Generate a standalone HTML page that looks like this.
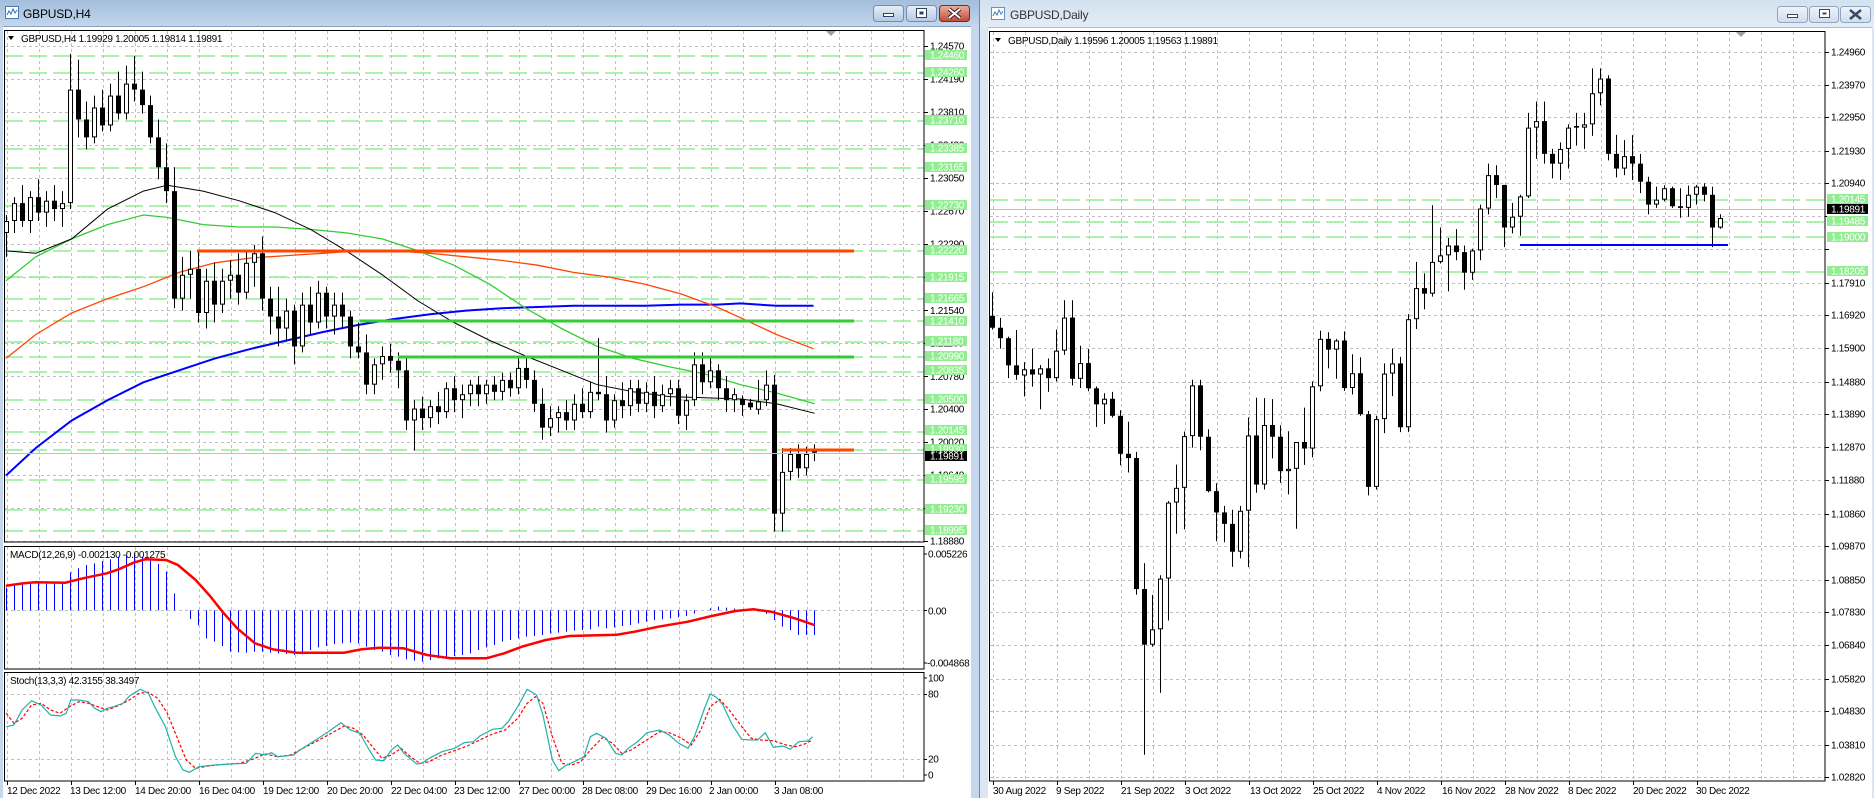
<!DOCTYPE html>
<html><head><meta charset="utf-8">
<style>
html,body{margin:0;padding:0;background:#fff;}
body{width:1874px;height:798px;overflow:hidden;}
svg{display:block;}
text{font-family:"Liberation Sans",Arial,sans-serif;font-size:10px;letter-spacing:-0.3px;}
.ax{fill:#000;}
.gl{fill:#fff;}
.tt{font-size:12px;letter-spacing:-0.2px;}
</style></head><body>
<svg id="s" width="1874" height="798" viewBox="0 0 1874 798" xmlns="http://www.w3.org/2000/svg">
<defs>
<linearGradient id="tbA" x1="0" y1="0" x2="0" y2="1"><stop offset="0" stop-color="#a3bddb"/><stop offset="1" stop-color="#c4d7ed"/></linearGradient>
<linearGradient id="tbB" x1="0" y1="0" x2="0" y2="1"><stop offset="0" stop-color="#d3e1f0"/><stop offset="1" stop-color="#e4edf7"/></linearGradient>
<linearGradient id="btA" x1="0" y1="0" x2="0" y2="1"><stop offset="0" stop-color="#e8eff8"/><stop offset="1" stop-color="#b3c8e2"/></linearGradient>
<linearGradient id="btR" x1="0" y1="0" x2="0" y2="1"><stop offset="0" stop-color="#eab0a2"/><stop offset="1" stop-color="#c2483a"/></linearGradient>
<linearGradient id="btB" x1="0" y1="0" x2="0" y2="1"><stop offset="0" stop-color="#f0f4fa"/><stop offset="1" stop-color="#cfdcec"/></linearGradient>
<clipPath id="cM"><rect x="5" y="31" width="919" height="511"/></clipPath>
<clipPath id="cD"><rect x="5" y="547" width="919" height="122"/></clipPath>
<clipPath id="cS"><rect x="5" y="673" width="919" height="108"/></clipPath>
<clipPath id="cR"><rect x="990" y="32" width="835" height="749"/></clipPath>
</defs>

<!-- window chrome -->
<rect x="0" y="0" width="1874" height="798" fill="#c5d7ed"/>
<rect x="0" y="0" width="980" height="27" fill="url(#tbA)"/>
<rect x="980" y="0" width="894" height="28" fill="url(#tbB)"/>
<rect x="980" y="28" width="894" height="770" fill="#dbe6f3"/>
<line x1="979.5" y1="0" x2="979.5" y2="798" stroke="#5b8fc4"/>
<rect x="3" y="27" width="968" height="771" fill="#fff"/>
<line x1="3" y1="26.5" x2="971" y2="26.5" stroke="#8aa2c0"/>
<rect x="988" y="28" width="884" height="770" fill="#fff"/>
<line x1="988" y1="27.5" x2="1872" y2="27.5" stroke="#a9bdd6"/>

<!-- icons -->
<rect x="5.5" y="6.5" width="13" height="12" fill="#fff" stroke="#4a78b0"/>
<polyline points="7,15 9,11 11,14 13,9 15,13 17,10" fill="none" stroke="#2a6fc0"/>
<rect x="991.5" y="7.5" width="13" height="12" fill="#fff" stroke="#6a90bf"/>
<polyline points="993,16 995,12 997,15 999,10 1001,14 1003,11" fill="none" stroke="#3a7fc8"/>

<!-- titles -->
<text x="23" y="18" class="tt" fill="#000">GBPUSD,H4</text>
<text x="1010" y="19" class="tt" fill="#333">GBPUSD,Daily</text>

<!-- left buttons -->
<rect x="873.5" y="5.5" width="30" height="16" rx="3" fill="url(#btA)" stroke="#6f8db3"/>
<rect x="883.5" y="13.5" width="10" height="3" fill="#fff" stroke="#2d4260"/>
<rect x="906.5" y="5.5" width="30" height="16" rx="3" fill="url(#btA)" stroke="#6f8db3"/>
<rect x="916.5" y="8.5" width="10" height="9" fill="#fff" stroke="#2d4260"/>
<rect x="919.5" y="11.5" width="4" height="3" fill="#2d4260"/>
<rect x="939.5" y="5.5" width="30" height="16" rx="3" fill="url(#btR)" stroke="#7a2a1e"/>
<path d="M949,9 L960,18 M960,9 L949,18" stroke="#3a1a14" stroke-width="4"/>
<path d="M949,9 L960,18 M960,9 L949,18" stroke="#fff" stroke-width="2"/>

<!-- right buttons -->
<rect x="1777.5" y="6.5" width="30" height="16" rx="3" fill="url(#btB)" stroke="#8ea6c3"/>
<rect x="1787.5" y="14.5" width="10" height="3" fill="#fff" stroke="#3c4a5c"/>
<rect x="1809.5" y="6.5" width="29" height="16" rx="3" fill="url(#btB)" stroke="#8ea6c3"/>
<rect x="1819.5" y="9.5" width="10" height="8" fill="#fff" stroke="#3c4a5c"/>
<rect x="1822.5" y="12.5" width="4" height="2" fill="#3c4a5c"/>
<rect x="1840.5" y="6.5" width="30" height="16" rx="3" fill="url(#btB)" stroke="#8ea6c3"/>
<path d="M1850,10 L1861,19 M1861,10 L1850,19" stroke="#3c4a5c" stroke-width="2.5"/>

<!-- grids (generated) -->
<g id="grid"></g>

<!-- left main chart content -->
<g clip-path="url(#cM)">
  <g id="lgreen"></g>
  <g id="lma"></g>
  <g id="lcandles"></g>
  <line x1="197" y1="251" x2="854" y2="251" stroke="#ff4500" stroke-width="3"/>
  <line x1="360" y1="321" x2="854" y2="321" stroke="#32cd32" stroke-width="3"/>
  <line x1="398" y1="357" x2="854" y2="357" stroke="#32cd32" stroke-width="3"/>
  <line x1="782" y1="450" x2="854" y2="450" stroke="#ff4500" stroke-width="3"/>
  <line x1="5" y1="453.5" x2="924" y2="453.5" stroke="#c0c0c0"/>
  <polygon points="826,31 836,31 831,36" fill="#a0a0a0"/>
</g>
<g clip-path="url(#cD)"><g id="macd"></g></g>
<g clip-path="url(#cS)"><g id="stoch"></g></g>

<!-- right chart content -->
<g clip-path="url(#cR)">
  <g id="rgreen"></g>
  <line x1="990" y1="209.5" x2="1825" y2="209.5" stroke="#c0c0c0"/>
  <g id="rcandles"></g>
  <line x1="1520" y1="245" x2="1728" y2="245" stroke="#0000ff" stroke-width="2"/>
  <polygon points="1736,32 1746,32 1741,37" fill="#a0a0a0"/>
</g>

<!-- frames -->
<rect x="4.5" y="30.5" width="919.5" height="511.5" fill="none" stroke="#000"/>
<rect x="4.5" y="546.5" width="919.5" height="122.5" fill="none" stroke="#000"/>
<rect x="4.5" y="672.5" width="919.5" height="108.5" fill="none" stroke="#000"/>
<rect x="989.5" y="31.5" width="835.5" height="749.5" fill="none" stroke="#000"/>
<g id="ticks"></g>

<!-- headers -->
<polygon points="8,36 14,36 11,40" fill="#000"/>
<text x="21" y="42" class="ax">GBPUSD,H4  1.19929 1.20005 1.19814 1.19891</text>
<polygon points="995,38 1001,38 998,42" fill="#000"/>
<text x="1008" y="44" class="ax">GBPUSD,Daily  1.19596 1.20005 1.19563 1.19891</text>
<text x="10" y="558" class="ax">MACD(12,26,9) -0.002130 -0.001275</text>
<text x="10" y="684" class="ax">Stoch(13,3,3) 42.3155 38.3497</text>

<!-- left axis tick labels -->
<g class="ax">
<text x="930" y="49.6">1.24570</text>
<text x="930" y="82.6">1.24190</text>
<text x="930" y="115.6">1.23810</text>
<text x="930" y="148.6">1.23430</text>
<text x="930" y="181.6">1.23050</text>
<text x="930" y="214.6">1.22670</text>
<text x="930" y="247.6">1.22290</text>
<text x="930" y="280.6">1.21910</text>
<text x="930" y="314.1">1.21540</text>
<text x="930" y="346.6">1.21160</text>
<text x="930" y="380.1">1.20780</text>
<text x="930" y="412.6">1.20400</text>
<text x="930" y="445.6">1.20020</text>
<text x="930" y="478.6">1.19640</text>
<text x="930" y="511.6">1.19260</text>
<text x="930" y="544.6">1.18880</text>
<text x="928" y="557.6">0.005226</text>
<text x="928" y="614.6">0.00</text>
<text x="927" y="666.6">-0.004868</text>
<text x="928" y="681.6">100</text>
<text x="928" y="697.6">80</text>
<text x="928" y="762.6">20</text>
<text x="928" y="778.6">0</text>
</g>
<!-- left green labels -->
<g fill="#90ee90">
<rect x="925" y="50" width="42" height="10"/>
<rect x="925" y="67" width="42" height="10"/>
<rect x="925" y="115" width="42" height="10"/>
<rect x="925" y="143" width="42" height="10"/>
<rect x="925" y="162" width="42" height="10"/>
<rect x="925" y="200" width="42" height="10"/>
<rect x="925" y="245" width="42" height="10"/>
<rect x="925" y="272" width="42" height="10"/>
<rect x="925" y="293" width="42" height="10"/>
<rect x="925" y="316" width="42" height="10"/>
<rect x="925" y="336" width="42" height="10"/>
<rect x="925" y="351" width="42" height="10"/>
<rect x="925" y="365" width="42" height="10"/>
<rect x="925" y="394" width="42" height="10"/>
<rect x="925" y="425" width="42" height="10"/>
<rect x="925" y="444" width="42" height="10"/>
<rect x="925" y="474" width="42" height="10"/>
<rect x="925" y="504" width="42" height="10"/>
<rect x="925" y="525" width="42" height="10"/>
</g>
<rect x="925" y="451" width="42" height="10" fill="#000"/>
<g class="gl">
<text x="930" y="58.6">1.24460</text>
<text x="930" y="75.6">1.24260</text>
<text x="930" y="123.6">1.23710</text>
<text x="930" y="151.6">1.23385</text>
<text x="930" y="170.6">1.23165</text>
<text x="930" y="208.6">1.22730</text>
<text x="930" y="253.6">1.22220</text>
<text x="930" y="280.6">1.21915</text>
<text x="930" y="301.6">1.21665</text>
<text x="930" y="324.6">1.21410</text>
<text x="930" y="344.6">1.21180</text>
<text x="930" y="359.6">1.20990</text>
<text x="930" y="373.6">1.20835</text>
<text x="930" y="402.6">1.20500</text>
<text x="930" y="433.6">1.20145</text>
<text x="930" y="452.6">1.19930</text>
<text x="930" y="482.6">1.19595</text>
<text x="930" y="512.6">1.19230</text>
<text x="930" y="533.6">1.18995</text>
<text x="930" y="459.6">1.19891</text>
</g>

<!-- right axis labels -->
<g class="ax">
<text x="1831" y="55.6">1.24960</text>
<text x="1831" y="88.6">1.23970</text>
<text x="1831" y="120.6">1.22950</text>
<text x="1831" y="154.6">1.21930</text>
<text x="1831" y="186.6">1.20940</text>
<text x="1831" y="286.6">1.17910</text>
<text x="1831" y="318.6">1.16920</text>
<text x="1831" y="351.6">1.15900</text>
<text x="1831" y="385.6">1.14880</text>
<text x="1831" y="417.6">1.13890</text>
<text x="1831" y="450.6">1.12870</text>
<text x="1831" y="483.6">1.11880</text>
<text x="1831" y="517.6">1.10860</text>
<text x="1831" y="549.6">1.09870</text>
<text x="1831" y="583.6">1.08850</text>
<text x="1831" y="615.6">1.07830</text>
<text x="1831" y="648.6">1.06840</text>
<text x="1831" y="682.6">1.05820</text>
<text x="1831" y="714.6">1.04830</text>
<text x="1831" y="748.6">1.03810</text>
<text x="1831" y="780.6">1.02820</text>
</g>
<g fill="#90ee90">
<rect x="1827" y="194" width="41" height="10"/>
<rect x="1827" y="216" width="41" height="10"/>
<rect x="1827" y="232" width="41" height="10"/>
<rect x="1827" y="266" width="41" height="10"/>
</g>
<rect x="1827" y="204" width="41" height="10" fill="#000"/>
<g class="gl">
<text x="1831" y="202.6">1.20145</text>
<text x="1831" y="212.6">1.19891</text>
<text x="1831" y="224.6">1.19485</text>
<text x="1831" y="240.6">1.19000</text>
<text x="1831" y="274.6">1.18205</text>
</g>

<!-- date labels -->
<g class="ax">
<text x="7" y="794">12 Dec 2022</text>
<text x="70" y="794">13 Dec 12:00</text>
<text x="135" y="794">14 Dec 20:00</text>
<text x="199" y="794">16 Dec 04:00</text>
<text x="263" y="794">19 Dec 12:00</text>
<text x="327" y="794">20 Dec 20:00</text>
<text x="391" y="794">22 Dec 04:00</text>
<text x="454" y="794">23 Dec 12:00</text>
<text x="519" y="794">27 Dec 00:00</text>
<text x="582" y="794">28 Dec 08:00</text>
<text x="646" y="794">29 Dec 16:00</text>
<text x="709" y="794">2 Jan 00:00</text>
<text x="774" y="794">3 Jan 08:00</text>
<text x="993" y="794">30 Aug 2022</text>
<text x="1056" y="794">9 Sep 2022</text>
<text x="1121" y="794">21 Sep 2022</text>
<text x="1185" y="794">3 Oct 2022</text>
<text x="1250" y="794">13 Oct 2022</text>
<text x="1313" y="794">25 Oct 2022</text>
<text x="1377" y="794">4 Nov 2022</text>
<text x="1442" y="794">16 Nov 2022</text>
<text x="1505" y="794">28 Nov 2022</text>
<text x="1568" y="794">8 Dec 2022</text>
<text x="1633" y="794">20 Dec 2022</text>
<text x="1696" y="794">30 Dec 2022</text>
</g>
</svg>

<script>
(function(){
var NS="http://www.w3.org/2000/svg";
function el(p,t,a){var e=document.createElementNS(NS,t);for(var k in a)e.setAttribute(k,a[k]);p.appendChild(e);return e;}
function $(id){return document.getElementById(id);}
var S=1.1946;

/* grids */
var g=$("grid");var D="3 3",GC="#c0c0c0";
var lys=[46,79,112,145,178,211,244,277,310,343,376,409,442,475,508,541];
for(var k=0;k<=28;k++){var x=7.5+32*k;
 el(g,"line",{x1:x,y1:31,x2:x,y2:542,stroke:GC,"stroke-dasharray":D});
 el(g,"line",{x1:x,y1:547,x2:x,y2:669,stroke:GC,"stroke-dasharray":D});
 el(g,"line",{x1:x,y1:673,x2:x,y2:781,stroke:GC,"stroke-dasharray":D});}
lys.forEach(function(y){el(g,"line",{x1:5,y1:y+0.5,x2:924,y2:y+0.5,stroke:GC,"stroke-dasharray":D});});
el(g,"line",{x1:5,y1:610.5,x2:924,y2:610.5,stroke:GC,"stroke-dasharray":D});
el(g,"line",{x1:5,y1:694.5,x2:924,y2:694.5,stroke:GC,"stroke-dasharray":D});
el(g,"line",{x1:5,y1:759.5,x2:924,y2:759.5,stroke:GC,"stroke-dasharray":D});
var rys=[52,85,117,151,183,216,249,283,315,348,382,414,447,480,514,546,580,612,645,679,711,745,777];
for(var k=0;k<=25;k++){var x=993.5+32*k;el(g,"line",{x1:x,y1:32,x2:x,y2:781,stroke:GC,"stroke-dasharray":D});}
rys.forEach(function(y){el(g,"line",{x1:990,y1:y+0.5,x2:1825,y2:y+0.5,stroke:GC,"stroke-dasharray":D});});

/* ticks */
var t=$("ticks");
lys.forEach(function(y){el(t,"line",{x1:924,y1:y+0.5,x2:928,y2:y+0.5,stroke:"#000"});});
[554,610.5,663,678,694.5,759.5,775].forEach(function(y){el(t,"line",{x1:924,y1:y,x2:927,y2:y,stroke:"#000"});});
rys.forEach(function(y){el(t,"line",{x1:1825,y1:y+0.5,x2:1829,y2:y+0.5,stroke:"#000"});});
[7,71,135,199,263,327,391,455,519,583,647,711,775].forEach(function(x){el(t,"line",{x1:x+0.5,y1:781,x2:x+0.5,y2:785,stroke:"#000"});});
for(var k=0;k<12;k++){var x=993.5+64*k;el(t,"line",{x1:x,y1:781,x2:x,y2:785,stroke:"#000"});}

/* green dashed levels */
var lg=$("lgreen");
[56,73,121,149,168,206,251,277,299,321,342,357,372,400,432,450,480,510,531].forEach(function(y){
 el(lg,"line",{x1:5,y1:y,x2:924,y2:y,stroke:"#90ee90","stroke-width":1.5,"stroke-dasharray":"18 6"});});
var rg=$("rgreen");
[200,222,237,272].forEach(function(y){
 el(rg,"line",{x1:990,y1:y,x2:1825,y2:y,stroke:"#90ee90","stroke-width":1.5,"stroke-dasharray":"18 6"});});

/* candles */
function candles(gr,data,xf,yf){
 for(var i=0;i<data.length;i++){var d=data[i];var x=Math.round(xf(i));
  var o=yf(d[0]),h=yf(d[1]),l=yf(d[2]),c=yf(d[3]);
  el(gr,"line",{x1:x+0.5,y1:Math.min(h,l),x2:x+0.5,y2:Math.max(h,l),stroke:"#000"});
  var top=Math.min(o,c),bot=Math.max(o,c);if(bot-top<1)bot=top+1;
  if(c<o){el(gr,"rect",{x:x-1.5,y:top+0.5,width:4,height:Math.max(bot-top-1,0.5),fill:"#fff",stroke:"#000"});}
  else{el(gr,"rect",{x:x-2,y:top,width:5,height:bot-top,fill:"#000"});}
 }}

var H4=[[195,180,215,185],[185,165,195,170],[170,155,190,185],[185,160,195,165],[165,150,185,178],[178,160,190,168],[168,155,185,175],[175,160,190,170],
[170,45,175,75],[75,50,115,100],[100,85,125,115],[115,80,120,90],[90,75,110,105],[105,70,110,80],[80,60,100,95],[95,55,100,70],[70,47,85,75],[75,60,95,88],[88,80,120,115],[115,100,150,140],
[140,120,170,160],[160,140,258,250],[250,215,260,230],[230,210,250,225],[225,210,270,262],[262,225,275,235],[235,220,270,255],[255,225,262,235],[235,218,250,230],[230,212,255,245],
[245,210,250,220],[220,205,240,212],[212,198,260,250],[250,240,280,265],[265,240,290,275],[275,250,285,260],[260,255,305,290],[290,245,295,255],[255,240,280,270],[270,235,275,245],
[245,240,275,265],[265,245,280,255],[255,245,275,265],[265,260,300,290],[290,270,300,295],[295,280,330,322],[322,300,330,305],[305,290,318,298],[298,288,312,302],[302,295,325,310],
[310,300,360,352],[352,335,377,342],[342,332,360,350],[350,335,358,340],[340,328,355,345],[345,320,350,325],[325,315,345,335],[335,322,350,330],[330,318,340,322],[322,315,340,330],
[330,318,338,322],[322,315,335,328],[328,312,335,318],[318,312,332,325],[325,300,330,308],[308,298,325,318],[318,310,345,338],[338,325,368,358],[358,340,365,350],[350,340,362,345],
[345,335,360,352],[352,330,360,338],[338,325,350,345],[345,320,350,328],[328,283,335,330],[330,315,362,352],[352,330,358,335],[335,320,350,340],[340,318,348,325],[325,318,345,338],
[338,320,345,328],[328,315,350,340],[340,322,345,330],[330,318,340,325],[325,318,355,348],[348,330,360,335],[335,295,340,305],[305,295,330,320],[320,300,325,310],[310,305,335,325],
[325,315,345,335],[335,325,345,330],[334,331,348,339],[337,334,343,341],[343,318,347,336],[335,310,340,322],[322,314,445,430],[430,375,445,395],[395,375,402,380],[380,372,400,392],
[392,374,398,380],[377,372,386,379]];
candles($("lcandles"),H4,function(i){return 6+8*i;},function(v){return v*S;});

var DY=[[1.1690,1.1762,1.1648,1.1654],[1.1654,1.1684,1.1590,1.1622],[1.1622,1.1627,1.1500,1.1539],[1.1539,1.1647,1.1495,1.1510],[1.1508,1.1549,1.1444,1.1527],[1.1527,1.1590,1.1474,1.1511],[1.1511,1.1540,1.1405,1.1530],[1.1530,1.1560,1.1458,1.1500],[1.1500,1.1648,1.1490,1.1584],[1.1584,1.1738,1.1571,1.1685],
[1.1685,1.1738,1.1478,1.1498],[1.1498,1.1599,1.1470,1.1546],[1.1546,1.1589,1.1460,1.1469],[1.1469,1.1475,1.1351,1.1420],[1.1420,1.1454,1.1360,1.1437],[1.1437,1.1458,1.1380,1.1385],[1.1385,1.1402,1.1234,1.1269],[1.1269,1.1367,1.1212,1.1256],[1.1256,1.1275,1.0839,1.0856],[1.0856,1.0935,1.0350,1.0686],
[1.0686,1.0838,1.0680,1.0733],[1.0733,1.0898,1.0539,1.0888],[1.0888,1.1125,1.0760,1.1120],[1.1120,1.1236,1.1025,1.1165],[1.1165,1.1337,1.1038,1.1323],[1.1323,1.1495,1.1288,1.1478],[1.1478,1.1495,1.1280,1.1321],[1.1321,1.1344,1.1151,1.1155],[1.1155,1.1179,1.1002,1.1090],[1.1090,1.1110,1.0999,1.1055],
[1.1055,1.1098,1.0924,1.0970],[1.0970,1.1110,1.0950,1.1095],[1.1095,1.1380,1.0923,1.1325],[1.1325,1.1440,1.1150,1.1175],[1.1175,1.1439,1.1160,1.1357],[1.1357,1.1436,1.1255,1.1321],[1.1321,1.1356,1.1180,1.1216],[1.1216,1.1338,1.1145,1.1223],[1.1223,1.1300,1.1040,1.1305],[1.1305,1.1410,1.1235,1.1285],
[1.1285,1.1490,1.1258,1.1475],[1.1475,1.1645,1.1460,1.1620],[1.1620,1.1640,1.1530,1.1587],[1.1587,1.1620,1.1498,1.1615],[1.1615,1.1643,1.1461,1.1470],[1.1470,1.1573,1.1450,1.1515],[1.1515,1.1564,1.1385,1.1390],[1.1390,1.1400,1.1142,1.1168],[1.1168,1.1385,1.1160,1.1375],[1.1375,1.1545,1.1332,1.1514],
[1.1514,1.1590,1.1445,1.1545],[1.1545,1.1565,1.1335,1.1350],[1.1350,1.1695,1.1335,1.1680],[1.1680,1.1855,1.1650,1.1775],[1.1775,1.1820,1.1710,1.1758],[1.1758,1.2028,1.1749,1.1855],[1.1855,1.1960,1.1850,1.1875],[1.1875,1.1928,1.1765,1.1905],[1.1905,1.1955,1.1860,1.1885],[1.1885,1.1905,1.1770,1.1822],
[1.1822,1.1895,1.1800,1.1890],[1.1890,1.2030,1.1860,1.2018],[1.2018,1.2155,1.2000,1.2120],[1.2120,1.2150,1.2050,1.2090],[1.2090,1.2090,1.1900,1.1960],[1.1960,1.2035,1.1942,1.1993],[1.1993,1.2060,1.1935,1.2055],[1.2055,1.2310,1.2050,1.2265],[1.2265,1.2345,1.2170,1.2285],[1.2285,1.2345,1.2155,1.2185],
[1.2185,1.2200,1.2110,1.2155],[1.2155,1.2220,1.2105,1.2200],[1.2200,1.2275,1.2140,1.2265],[1.2265,1.2310,1.2210,1.2270],[1.2265,1.2310,1.2200,1.2275],[1.2275,1.2446,1.2240,1.2370],[1.2370,1.2446,1.2333,1.2415],[1.2415,1.2425,1.2165,1.2185],[1.2185,1.2243,1.2113,1.2140],[1.2140,1.2227,1.2120,1.2178],
[1.2178,1.2242,1.2105,1.2155],[1.2155,1.2185,1.2065,1.2100],[1.2100,1.2115,1.2000,1.2030],[1.2030,1.2085,1.2020,1.2045],[1.2045,1.2089,1.2040,1.2080],[1.2080,1.2085,1.2020,1.2025],[1.2025,1.2080,1.1990,1.2020],[1.2020,1.2088,1.1993,1.2060],[1.2060,1.2090,1.2030,1.2085],[1.2085,1.2095,1.2040,1.2060],
[1.2060,1.2085,1.1900,1.1960],[1.19596,1.20005,1.19563,1.19891]];
candles($("rcandles"),DY,function(i){return 992+8*i;},function(p){return 52+(1.24960-p)*3274.6;});

/* moving averages (displayed coords * S) */
function pl(gr,pts,col,w){var s=pts.map(function(p){return (p[0]*S).toFixed(1)+","+(p[1]*S).toFixed(1);}).join(" ");
 el(gr,"polyline",{points:s,fill:"none",stroke:col,"stroke-width":w});}
var ma=$("lma");
pl(ma,[[5,398],[30,375],[60,352],[90,335],[120,320],[150,310],[180,300],[210,292],[240,285],[270,278],[300,272],[330,267],[360,263],[390,260],[420,258],[450,257],[480,256],[510,256],[540,256],[570,255],[600,255],[620,254],[650,256],[681,256]],"#0000ff",2);
pl(ma,[[5,300],[30,280],[60,262],[90,250],[120,240],[150,228],[180,220],[210,216],[240,214],[270,212],[300,210],[330,210],[360,212],[390,215],[420,218],[450,222],[480,228],[510,232],[540,238],[570,246],[600,257],[620,266],[650,280],[681,292]],"#ff4500",1.3);
pl(ma,[[5,235],[30,215],[60,200],[90,188],[120,180],[140,182],[170,188],[200,190],[230,190],[260,192],[290,195],[320,200],[350,210],[380,222],[410,238],[440,258],[470,275],[500,290],[530,300],[560,307],[590,313],[620,322],[650,329],[682,338]],"#32cd32",1.3);
pl(ma,[[5,210],[30,212],[60,200],[90,175],[120,160],[140,155],[170,160],[200,168],[230,178],[260,192],[290,210],[320,230],[350,252],[380,270],[410,285],[440,298],[470,310],[500,322],[530,328],[560,332],[590,333],[620,334],[650,338],[682,346]],"#000",1);

/* MACD */
var m=$("macd");
var H=[143,135,130,128,128,130,130,128,97,85,75,70,63,58,50,47,45,50,60,72,95,160,211,237,256,295,305,318,335,337,338,335,335,338,340,342,345,343,330,322,318,312,310,308,310,320,330,335,345,350,358,362,365,360,355,352,348,345,340,330,322,315,305,300,295,290,288,285,280,278,275,272,270,268,260,265,262,258,255,250,245,240,238,235,232,228,220,212,205,200,203,206,208,211,215,222,240,260,270,285,285,285];
for(var i=0;i<H.length;i++){var x=6.5+8*i,y=540+H[i]/3;if(Math.abs(y-610.3)<0.8)continue;
 el(m,"line",{x1:x,y1:610.3,x2:x,y2:y,stroke:"#0000ff"});}
var sg=[[10,137],[40,130],[60,127],[110,128],[140,115],[180,100],[200,88],[225,68],[245,58],[280,60],[300,75],[330,120],[355,170],[375,215],[400,265],[430,310],[460,328],[500,338],[580,338],[610,328],[640,323],[680,325],[720,345],[760,355],[820,355],[850,340],[880,320],[920,300],[960,288],[1040,284],[1070,275],[1110,260],[1160,245],[1200,228],[1240,213],[1270,208],[1300,215],[1340,235],[1373,255]];
el(m,"polyline",{points:sg.map(function(p){return (p[0]/1.686).toFixed(1)+","+(540+p[1]/3).toFixed(1);}).join(" "),fill:"none",stroke:"#ff0000","stroke-width":2.5});

/* Stochastic */
var st=$("stoch");
function sp(a){return a.map(function(p){return (p[0]/1.584).toFixed(1)+","+(660+p[1]/3).toFixed(1);}).join(" ");}
var sig=[[10,160],[22,190],[35,175],[50,135],[65,130],[80,150],[95,160],[110,140],[125,125],[140,130],[155,140],[170,150],[190,135],[205,120],[220,100],[235,97],[250,115],[265,160],[280,230],[295,300],[310,325],[330,318],[355,313],[380,310],[400,298],[420,282],[440,290],[460,285],[480,265],[500,245],[520,225],[545,198],[560,205],[575,225],[590,260],[605,295],[620,285],[635,265],[650,290],[665,310],[680,305],[700,285],[720,272],[740,258],[760,240],[780,222],[800,210],[820,175],[835,130],[848,110],[860,130],[875,230],[890,310],[905,315],[920,305],[935,270],[955,232],[970,250],[985,280],[1000,270],[1020,245],[1045,215],[1060,218],[1080,235],[1095,255],[1110,210],[1125,140],[1140,118],[1155,150],[1175,200],[1190,235],[1205,240],[1225,242],[1245,255],[1260,260],[1275,252],[1287,240]];
var mn=[[10,200],[22,195],[35,150],[50,122],[65,135],[80,165],[95,168],[105,160],[112,120],[125,120],[140,125],[150,145],[160,155],[170,145],[180,140],[195,130],[205,108],[222,88],[235,100],[245,140],[262,200],[278,290],[290,330],[300,337],[315,320],[340,315],[365,312],[390,310],[405,280],[420,285],[430,278],[440,290],[465,285],[475,270],[500,240],[520,215],[540,188],[555,210],[570,220],[585,270],[595,300],[608,302],[620,270],[630,255],[640,280],[660,312],[668,310],[680,295],[700,275],[720,265],[735,248],[750,245],[760,228],[780,208],[795,205],[805,185],[820,140],[835,88],[850,105],[860,165],[875,300],[885,332],[895,318],[915,300],[925,290],[935,230],[945,220],[960,235],[975,280],[985,285],[995,265],[1010,245],[1025,218],[1045,210],[1060,225],[1075,250],[1090,265],[1100,230],[1115,150],[1125,102],[1135,112],[1145,135],[1160,195],[1175,238],[1190,240],[1200,240],[1212,218],[1225,262],[1240,258],[1252,268],[1265,245],[1280,243],[1287,230]];
el(st,"polyline",{points:sp(sig),fill:"none",stroke:"#ff0000","stroke-width":1.2,"stroke-dasharray":"3 2"});
el(st,"polyline",{points:sp(mn),fill:"none",stroke:"#20b2aa","stroke-width":1.2});
})();
</script>
</body></html>
